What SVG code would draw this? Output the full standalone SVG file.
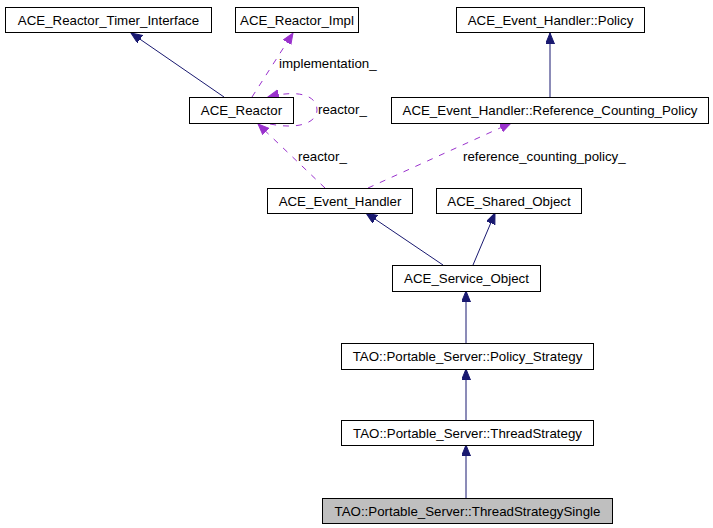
<svg xmlns="http://www.w3.org/2000/svg" width="713" height="528" viewBox="0 0 713 528">
<style>
.n rect{fill:#fff;stroke:#000;stroke-width:1}
.n text{font-family:"Liberation Sans",Arial,sans-serif;font-size:13.3px;fill:#000;text-anchor:middle}
.lbl{font-family:"Liberation Sans",Arial,sans-serif;font-size:13.3px;fill:#000}
.inh{fill:none;stroke:#191970;stroke-width:1;marker-end:url(#an)}
.use{fill:none;stroke:#9a32cd;stroke-width:1;stroke-dasharray:6,7;marker-end:url(#ap)}
</style>
<defs>
<marker id="an" markerUnits="userSpaceOnUse" markerWidth="12" markerHeight="10" refX="11" refY="4.5" orient="auto">
<path d="M0,0 L11,4.5 L0,9 z" fill="#191970" stroke="#191970"/>
</marker>
<marker id="ap" markerUnits="userSpaceOnUse" markerWidth="12" markerHeight="10" refX="11" refY="4.5" orient="auto">
<path d="M0,0 L11,4.5 L0,9 z" fill="#9a32cd" stroke="#9a32cd"/>
</marker>
</defs>
<rect width="713" height="528" fill="#fff"/>
<g id="connectors">
<path class="inh" d="M224,97 L131,33"/>
<path class="use" d="M252,97 L293,33"/>
<path class="use" d="M270,124 C300,130 317,122 317,110 C317,96 300,89 268,97"/>
<path class="use" d="M325,188 L258,124"/>
<path class="use" d="M368,188 L511,123"/>
<path class="inh" d="M550,97 L550,33"/>
<path class="inh" d="M443,265 L366,213"/>
<path class="inh" d="M473,265 L495,213"/>
<path class="inh" d="M466,343 L466,291"/>
<path class="inh" d="M466,420 L466,369"/>
<path class="inh" d="M466,498 L466,445"/>
<text class="lbl" x="279" y="68">implementation_</text>
<text class="lbl" x="318" y="114">reactor_</text>
<text class="lbl" x="298" y="161">reactor_</text>
<text class="lbl" x="463" y="161">reference_counting_policy_</text>
</g>
<g id="node-timer" class="n"><rect x="5.5" y="7.5" width="206" height="25"/><text x="108.5" y="24.5">ACE_Reactor_Timer_Interface</text></g>
<g id="node-impl" class="n"><rect x="235.5" y="7.5" width="123" height="25"/><text x="297" y="24.5">ACE_Reactor_Impl</text></g>
<g id="node-policy" class="n"><rect x="456.5" y="7.5" width="188" height="25"/><text x="550.5" y="24.5">ACE_Event_Handler::Policy</text></g>
<g id="node-reactor" class="n"><rect x="189.5" y="97.5" width="104" height="26"/><text x="241.5" y="115">ACE_Reactor</text></g>
<g id="node-refcount" class="n"><rect x="391.5" y="97.5" width="317" height="26"/><text x="550" y="115">ACE_Event_Handler::Reference_Counting_Policy</text></g>
<g id="node-eh" class="n"><rect x="267.5" y="188.5" width="145" height="25"/><text x="340" y="205.5">ACE_Event_Handler</text></g>
<g id="node-shared" class="n"><rect x="436.5" y="188.5" width="145" height="25"/><text x="509" y="205.5">ACE_Shared_Object</text></g>
<g id="node-service" class="n"><rect x="392.5" y="265.5" width="148" height="26"/><text x="466.5" y="283">ACE_Service_Object</text></g>
<g id="node-ps" class="n"><rect x="341.5" y="343.5" width="252" height="26"/><text x="467.5" y="361">TAO::Portable_Server::Policy_Strategy</text></g>
<g id="node-ts" class="n"><rect x="341.5" y="420.5" width="252" height="25"/><text x="467.5" y="437.5">TAO::Portable_Server::ThreadStrategy</text></g>
<g id="node-tss" class="n"><rect x="322.5" y="498.5" width="290" height="25" style="fill:#bfbfbf"/><text x="467.5" y="515.5">TAO::Portable_Server::ThreadStrategySingle</text></g>
</svg>
